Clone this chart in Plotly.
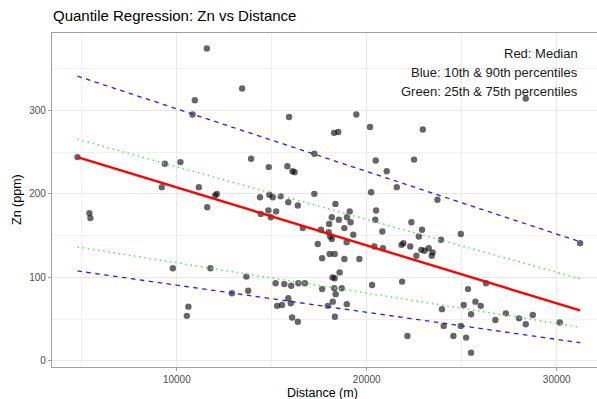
import plotly.graph_objects as go

# ---- data ----
distance = [4770, 5400, 5450, 9370, 10190, 9210, 10950, 10830, 11160, 9790,
            10610, 10530, 11580, 13440, 15910, 19450, 18280, 18500, 20170, 17240,
            13910, 14840, 15820, 16090, 16200, 20470, 21050, 21580, 12020, 12110,
            11600, 14380, 14870, 15050, 15470, 15870, 16370, 17240, 18350, 19100,
            20230, 20490, 14420, 14820, 15230, 18160, 18530, 20450, 14950, 18960,
            19150, 18020, 18820, 16630, 17590, 18000, 18080, 18160, 19290, 20820,
            17420, 18940, 20400, 20850, 17650, 18050, 18310, 18820, 19610, 11770,
            13660, 15200, 15660, 16020, 16400, 16740, 18200, 18310, 18570, 13760,
            12900, 17650, 18290, 18680, 20280, 18360, 15870, 16000, 15280, 15540,
            18210, 17950, 18950, 16070, 16370, 18320, 28370, 22950, 22490, 23720,
            22350, 22910, 22740, 21830, 21930, 22290, 23910, 22870, 23040, 23260,
            23470, 23420, 22610, 24950, 21860, 26280, 25330, 23960, 25100, 25720,
            26000, 25490, 24050, 24950, 24560, 25230, 22140, 25490, 26770, 27320,
            28020, 28370, 28740, 30160, 31230]
zn = [244, 177, 171, 236, 238, 208, 312, 295, 208, 111,
      65, 54, 374, 326, 292, 295, 273, 274, 280, 248,
      242, 232, 233, 227, 226, 240, 227, 208, 198, 200,
      184, 196, 199, 196, 197, 190, 186, 200, 188, 179,
      202, 180, 176, 180, 179, 172, 169, 169, 172, 172,
      166, 164, 159, 159, 157, 154, 149, 146, 151, 155,
      140, 142, 137, 135, 123, 128, 128, 122, 122, 111,
      101, 93, 92, 90, 93, 93, 100, 99, 106, 84,
      81, 86, 87, 87, 91, 80, 75, 69, 66, 67,
      71, 66, 68, 52, 47, 53, 314, 277, 241, 193,
      166, 157, 149, 139, 141, 137, 145, 133, 132, 135,
      130, 126, 126, 152, 95, 93, 86, 62, 67, 71,
      66, 56, 42, 42, 30, 28, 30, 10, 49, 57,
      51, 44, 55, 46, 141]

# quantile regression fits (intercept, slope)
quantiles = ["0.10", "0.25", "0.50", "0.75", "0.90"]
intercepts = [123.2, 153.7, 277.0, 295.5, 376.6]
slopes = [-0.003245, -0.003624, -0.006934, -0.00631, -0.00749]
line_colors = ["#1f1ff0", "#5fe35f", "#ff0000", "#5fe35f", "#1f1ff0"]
line_widths = [1.3, 1.5, 2.4, 1.5, 1.3]
line_dashes = ["4.5px,4.5px", "1.6px,3.6px", "solid", "1.6px,3.6px", "4.5px,4.5px"]

x_tickvals = [10000, 20000, 30000]
x_minor = [5000, 15000, 25000]
y_tickvals = [0, 100, 200, 300]
y_minor = [50, 150, 250, 350]

notes = ["Red: Median", "Blue: 10th & 90th percentiles", "Green: 25th & 75th percentiles"]
note_y = [368, 345, 322]

FONT = "Liberation Sans, Arial, Helvetica, sans-serif"

fig = go.Figure()
fig.add_trace(go.Scatter(
    x=distance, y=zn, mode="markers",
    marker=dict(size=6.4, color="rgba(0,0,0,0.6)", line=dict(width=0)),
    showlegend=False, hoverinfo="skip"))

xmin, xmax = min(distance), max(distance)
for q, a, b, c, w, d in zip(quantiles, intercepts, slopes, line_colors, line_widths, line_dashes):
    fig.add_trace(go.Scatter(
        x=[xmin, xmax], y=[a + b * xmin, a + b * xmax], mode="lines",
        line=dict(color=c, width=w, dash=d), showlegend=False, name=q,
        hoverinfo="skip"))

for t, yy in zip(notes, note_y):
    fig.add_annotation(x=xmax, y=yy, xref="x", yref="y", text=t, showarrow=False,
                       xanchor="right", yanchor="middle",
                       font=dict(family=FONT, size=13, color="#1a1a1a"))

# titles
fig.add_annotation(x=0, y=1, xref="paper", yref="paper", text="Quantile Regression: Zn vs Distance",
                   showarrow=False, xanchor="left", yanchor="bottom", yshift=7, xshift=-1,
                   font=dict(family=FONT, size=15, color="#000000"))
fig.add_annotation(x=0.497, y=0, xref="paper", yref="paper", text="Distance (m)",
                   showarrow=False, xanchor="center", yanchor="top", yshift=-17,
                   font=dict(family=FONT, size=12.5, color="#000000"))
fig.add_annotation(x=0, y=0.5, xref="paper", yref="paper", text="Zn (ppm)", textangle=-90,
                   showarrow=False, xanchor="center", yanchor="middle", xshift=-35,
                   font=dict(family=FONT, size=12.5, color="#000000"))

fig.update_layout(
    width=597, height=399,
    margin=dict(l=52, r=0, t=33, b=32),
    paper_bgcolor="white", plot_bgcolor="white",
    font=dict(family=FONT),
    xaxis=dict(range=[3430, 32120], tickvals=x_tickvals,
               ticktext=[str(v) for v in x_tickvals],
               showgrid=True, gridcolor="#e8e8e8", gridwidth=1,
               minor=dict(tickvals=x_minor, showgrid=True, gridcolor="#f0f0f0", gridwidth=0.7, ticks=""),
               showline=True, linecolor="#a0a0a0", linewidth=1.2, mirror=True,
               ticks="outside", ticklen=3, tickcolor="#a0a0a0", tickwidth=1,
               tickfont=dict(family=FONT, size=10, color="#4d4d4d"),
               zeroline=False),
    yaxis=dict(range=[-7.2, 392.5], tickvals=y_tickvals,
               ticktext=[str(v) for v in y_tickvals],
               showgrid=True, gridcolor="#e8e8e8", gridwidth=1,
               minor=dict(tickvals=y_minor, showgrid=True, gridcolor="#f0f0f0", gridwidth=0.7, ticks=""),
               showline=True, linecolor="#a0a0a0", linewidth=1.2, mirror=False,
               ticks="outside", ticklen=3, tickcolor="#a0a0a0", tickwidth=1,
               tickfont=dict(family=FONT, size=10, color="#4d4d4d"),
               zeroline=False),
)

fig.write_html("out.html")
